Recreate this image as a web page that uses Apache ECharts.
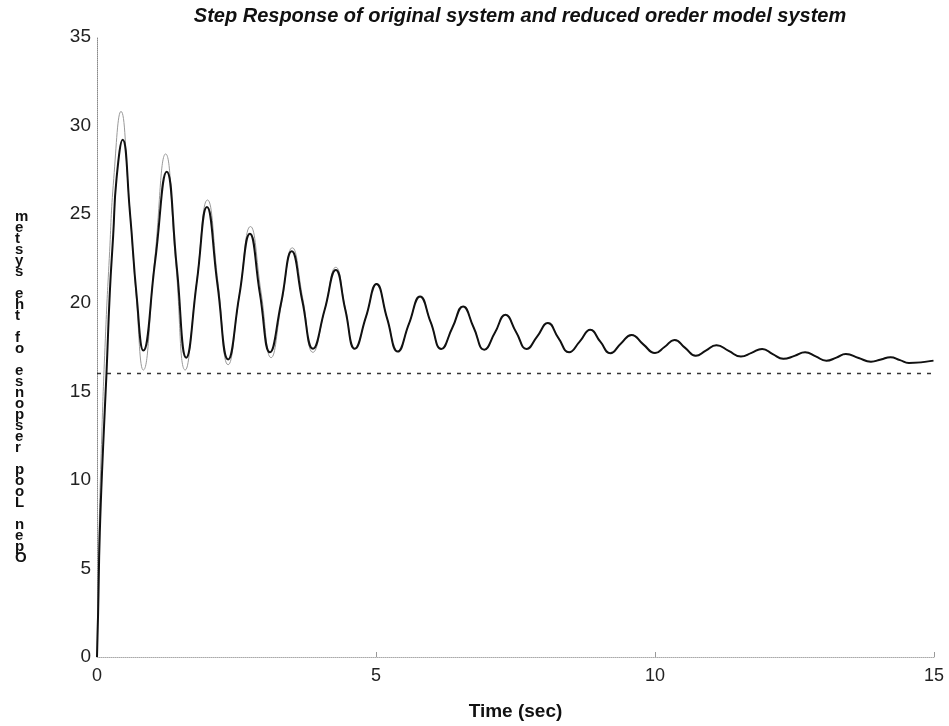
<!DOCTYPE html>
<html>
<head>
<meta charset="utf-8">
<title>Step Response</title>
<script src="https://cdn.jsdelivr.net/npm/echarts@6/dist/echarts.min.js"></script>
<style>
  html, body { margin: 0; padding: 0; background: #fff; }
  #chart { width: 949px; height: 726px; }
</style>
</head>
<body>
<div id="chart"></div>
<script>
const titleText = "Step Response of original system and reduced oreder model system";
const xName = "Time (sec)";
const yName = "Open Loop response of the system";

// original system (dark curve)
const tOriginal = [0, 0.02, 0.05, 0.11, 0.17, 0.23, 0.29, 0.35, 0.46, 0.59, 0.71, 0.83, 1.04, 1.25, 1.43, 1.60, 1.79, 1.97, 2.16, 2.35, 2.55, 2.74, 2.92, 3.10, 3.30, 3.49, 3.68, 3.87, 4.08, 4.28, 4.45, 4.62, 4.82, 5.01, 5.20, 5.39, 5.59, 5.79, 5.98, 6.17, 6.37, 6.56, 6.75, 6.94, 7.13, 7.32, 7.51, 7.70, 7.89, 8.08, 8.27, 8.46, 8.65, 8.84, 9.02, 9.20, 9.39, 9.58, 9.79, 10.0, 10.17, 10.35, 10.54, 10.73, 10.91, 11.10, 11.32, 11.54, 11.73, 11.92, 12.11, 12.30, 12.50, 12.69, 12.88, 13.07, 13.25, 13.42, 13.65, 13.87, 14.05, 14.22, 14.39, 14.55, 14.99];
const yOriginal = [0, 2.5, 7, 11.9, 16, 20.6, 23.8, 27.0, 29.2, 25.1, 20.4, 17.3, 22.3, 27.4, 22.0, 16.9, 21.2, 25.4, 21.0, 16.8, 20.4, 23.9, 20.5, 17.2, 20.0, 22.9, 20.1, 17.4, 19.6, 21.85, 19.6, 17.4, 19.2, 21.05, 19.1, 17.24, 18.8, 20.35, 18.9, 17.39, 18.6, 19.79, 18.6, 17.35, 18.3, 19.32, 18.35, 17.39, 18.1, 18.85, 18.0, 17.2, 17.8, 18.47, 17.8, 17.15, 17.7, 18.18, 17.65, 17.16, 17.5, 17.9, 17.45, 17.0, 17.3, 17.6, 17.28, 16.96, 17.17, 17.39, 17.1, 16.83, 17.0, 17.2, 16.97, 16.73, 16.9, 17.1, 16.88, 16.67, 16.8, 16.92, 16.76, 16.6, 16.73];

// reduced order model (light curve)
const tReduced = [0, 0.03, 0.08, 0.15, 0.22, 0.30, 0.43, 0.57, 0.70, 0.83, 1.03, 1.23, 1.41, 1.58, 1.78, 1.98, 2.17, 2.35, 2.55, 2.75, 2.94, 3.12, 3.31, 3.50, 3.69, 3.87, 4.08, 4.28, 4.45, 4.62, 4.82, 5.01, 5.20, 5.39, 5.59, 5.79, 5.98, 6.17, 6.37, 6.56, 6.75, 6.94, 7.13, 7.32, 7.51, 7.70, 7.89, 8.08, 8.27, 8.46, 8.65, 8.84, 9.02, 9.20, 9.39, 9.58, 9.79, 10.0, 10.17, 10.35, 10.54, 10.73, 10.91, 11.10, 11.32, 11.54, 11.73, 11.92, 12.11, 12.30, 12.50, 12.69, 12.88, 13.07, 13.25, 13.42, 13.65, 13.87, 14.05, 14.22, 14.39, 14.55, 14.99];
const yReduced = [0, 6, 12, 18, 22.5, 27, 30.8, 26, 20.5, 16.2, 22.3, 28.4, 22.3, 16.2, 21.0, 25.8, 21.1, 16.5, 20.4, 24.3, 20.6, 16.9, 20.0, 23.1, 20.2, 17.2, 19.6, 22.0, 19.7, 17.4, 19.2, 21.05, 19.1, 17.24, 18.8, 20.35, 18.9, 17.39, 18.6, 19.79, 18.6, 17.35, 18.3, 19.32, 18.35, 17.39, 18.1, 18.85, 18.0, 17.2, 17.8, 18.47, 17.8, 17.15, 17.7, 18.18, 17.65, 17.16, 17.5, 17.9, 17.45, 17.0, 17.3, 17.6, 17.28, 16.96, 17.17, 17.39, 17.1, 16.83, 17.0, 17.2, 16.97, 16.73, 16.9, 17.1, 16.88, 16.67, 16.8, 16.92, 16.76, 16.6, 16.73];

// final value reference line
const tFinal = [0, 15];
const yFinal = [16.0, 16.0];

const toPairs = (ts, ys) => ts.map((t, i) => [t, ys[i]]);

const chart = echarts.init(document.getElementById("chart"));

const fontFamily = "'Liberation Sans', Arial, sans-serif";

const option = {
    backgroundColor: "#fff",
    animation: false,
    title: {
        text: titleText,
        left: 515,
        textAlign: "center",
        top: 1,
        textStyle: {
            fontFamily: fontFamily,
            fontSize: 20,
            fontWeight: "bold",
            fontStyle: "italic",
            color: "#111"
        }
    },
    // y label in the picture is printed as stacked letters, last letter on top
    graphic: [{
        type: "text",
        left: 15,
        top: 209,
        style: {
            text: yName.split("").reverse().join("\n"),
            font: "bold 15px " + fontFamily,
            lineHeight: 11,
            fill: "#111",
            align: "center"
        }
    }],
    grid: { left: 97, right: 15, top: 37, bottom: 67 },
    xAxis: {
        type: "value",
        min: 0,
        max: 15,
        interval: 5,
        name: xName,
        nameLocation: "middle",
        nameGap: 45,
        nameTextStyle: { fontFamily: fontFamily, fontSize: 19, fontWeight: "bold", color: "#111" },
        axisLine: { lineStyle: { color: "#aaa", width: 1, type: "dotted" } },
        axisTick: { inside: true, length: 5, lineStyle: { color: "#999" } },
        axisLabel: { fontFamily: fontFamily, fontSize: 18, color: "#222", margin: 10 },
        splitLine: { show: false }
    },
    yAxis: {
        type: "value",
        min: 0,
        max: 35,
        interval: 5,
        axisLine: { show: true, lineStyle: { color: "#888", width: 1, type: "dotted" } },
        axisTick: { show: false },
        axisLabel: { fontFamily: fontFamily, fontSize: 19, color: "#222", margin: 6 },
        splitLine: { show: false }
    },
    series: [
        {
            name: "final value",
            type: "line",
            data: toPairs(tFinal, yFinal),
            showSymbol: false,
            lineStyle: { color: "#333", width: 1.5, type: [4, 6] }
        },
        {
            name: "reduced order model",
            type: "line",
            data: toPairs(tReduced, yReduced),
            smooth: 0.5,
            showSymbol: false,
            lineStyle: { color: "#999", width: 1 }
        },
        {
            name: "original system",
            type: "line",
            data: toPairs(tOriginal, yOriginal),
            smooth: 0.5,
            showSymbol: false,
            lineStyle: { color: "#111", width: 2 }
        }
    ]
};

chart.setOption(option, true);
</script>
</body>
</html>
